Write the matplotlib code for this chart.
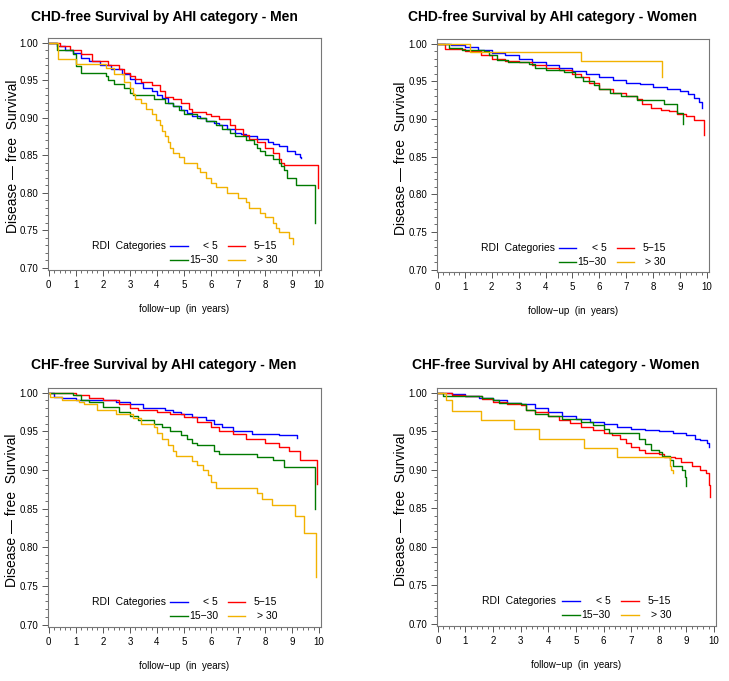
import matplotlib
matplotlib.use("Agg")
import matplotlib.pyplot as plt
from matplotlib.ticker import MultipleLocator

plt.rcParams['font.family'] = ['Liberation Sans', 'DejaVu Sans']

# category labels and colours
categories = ['< 5', '5\u221215', '15\u221230', '> 30']
colors = ['#0000ff', '#ff0000', '#007a00', '#f2b200']

# --- CHD-free, Men (time in years, survival) ---
chd_men_lt5_t = [0, 0.3, 0.6, 0.9, 1.2, 1.5, 1.9, 2.3, 2.7, 3.0, 3.2, 3.5, 3.8, 4.0, 4.2, 4.4, 4.6, 4.9, 5.1, 5.3, 5.6, 5.8, 6.1, 6.3, 6.6, 6.9, 7.1, 7.3, 7.7, 8.1, 8.3, 8.5, 8.8, 9.1, 9.3, 9.33]
chd_men_lt5_s = [1.0, 0.996, 0.99, 0.986, 0.98, 0.975, 0.97, 0.965, 0.958, 0.951, 0.946, 0.94, 0.936, 0.93, 0.926, 0.92, 0.915, 0.91, 0.906, 0.902, 0.899, 0.896, 0.893, 0.89, 0.885, 0.88, 0.878, 0.875, 0.872, 0.868, 0.865, 0.862, 0.855, 0.851, 0.848, 0.846]
chd_men_5_15_t = [0, 0.4, 0.8, 1.2, 1.6, 2.2, 2.6, 2.8, 3.0, 3.2, 3.4, 3.8, 4.1, 4.3, 4.6, 4.9, 5.2, 5.3, 5.8, 6.0, 6.3, 6.7, 6.9, 7.2, 7.4, 7.7, 8.0, 8.3, 8.5, 8.6, 8.7, 9.97]
chd_men_5_15_s = [1.0, 0.996, 0.99, 0.985, 0.975, 0.97, 0.965, 0.96, 0.955, 0.951, 0.948, 0.943, 0.935, 0.928, 0.925, 0.92, 0.912, 0.908, 0.905, 0.902, 0.898, 0.89, 0.885, 0.877, 0.872, 0.867, 0.86, 0.853, 0.845, 0.84, 0.837, 0.806]
chd_men_15_30_t = [0, 0.3, 0.9, 1.0, 1.2, 2.1, 2.2, 2.4, 2.8, 3.0, 3.1, 3.9, 4.3, 4.6, 4.8, 5.0, 5.5, 5.8, 6.2, 6.4, 6.7, 6.9, 7.3, 7.6, 7.7, 7.8, 8.0, 8.3, 8.5, 8.6, 8.7, 8.8, 9.15, 9.85]
chd_men_15_30_s = [1.0, 0.99, 0.985, 0.969, 0.959, 0.955, 0.95, 0.945, 0.94, 0.933, 0.93, 0.925, 0.92, 0.915, 0.91, 0.905, 0.9, 0.895, 0.89, 0.885, 0.88, 0.875, 0.87, 0.865, 0.86, 0.855, 0.85, 0.845, 0.84, 0.835, 0.83, 0.82, 0.81, 0.759]
chd_men_gt30_t = [0, 0.35, 1.0, 2.1, 2.4, 2.8, 3.0, 3.1, 3.2, 3.4, 3.6, 3.8, 3.95, 4.1, 4.2, 4.3, 4.4, 4.5, 4.6, 4.8, 5.0, 5.5, 5.6, 5.8, 6.0, 6.2, 6.6, 7.0, 7.3, 7.4, 7.8, 8.0, 8.3, 8.4, 8.5, 8.9, 9.02]
chd_men_gt30_s = [1.0, 0.978, 0.972, 0.966, 0.958, 0.948, 0.94, 0.932, 0.925, 0.92, 0.912, 0.905, 0.897, 0.89, 0.882, 0.875, 0.867, 0.86, 0.853, 0.847, 0.84, 0.833, 0.827, 0.82, 0.813, 0.807, 0.8, 0.793, 0.787, 0.78, 0.773, 0.767, 0.76, 0.753, 0.747, 0.74, 0.732]

# --- CHD-free, Women ---
chd_wom_lt5_t = [0, 0.5, 1.0, 1.5, 2.0, 2.5, 3.0, 3.5, 4.0, 4.5, 5.0, 5.5, 6.0, 6.5, 7.0, 7.5, 8.0, 8.5, 9.0, 9.3, 9.5, 9.7, 9.8, 9.82]
chd_wom_lt5_s = [1.0, 0.998, 0.995, 0.992, 0.988, 0.985, 0.98, 0.976, 0.972, 0.968, 0.964, 0.96, 0.956, 0.951, 0.948, 0.946, 0.943, 0.94, 0.937, 0.933, 0.928, 0.922, 0.918, 0.915]
chd_wom_5_15_t = [0, 0.25, 1.0, 1.6, 2.0, 2.5, 3.0, 3.5, 4.0, 4.5, 5.0, 5.3, 5.6, 6.0, 6.5, 7.0, 7.4, 7.6, 7.9, 8.3, 8.6, 8.9, 9.2, 9.5, 9.88]
chd_wom_5_15_s = [1.0, 0.993, 0.99, 0.985, 0.98, 0.977, 0.975, 0.972, 0.968, 0.965, 0.96, 0.955, 0.948, 0.94, 0.935, 0.93, 0.926, 0.92, 0.915, 0.912, 0.91, 0.906, 0.904, 0.899, 0.879]
chd_wom_15_30_t = [0, 0.4, 0.9, 1.7, 1.9, 2.2, 2.6, 3.4, 3.6, 4.0, 4.7, 5.1, 5.4, 5.8, 6.0, 6.4, 6.8, 7.4, 8.4, 8.9, 9.12]
chd_wom_15_30_s = [1.0, 0.994, 0.991, 0.99, 0.985, 0.978, 0.975, 0.973, 0.968, 0.965, 0.962, 0.955, 0.95, 0.945, 0.94, 0.935, 0.93, 0.925, 0.92, 0.908, 0.893]
chd_wom_gt30_t = [0, 1.21, 5.31, 8.31]
chd_wom_gt30_s = [1.0, 0.989, 0.977, 0.956]

# --- CHF-free, Men ---
chf_men_lt5_t = [0, 0.2, 0.5, 1.0, 1.5, 2.5, 3.0, 3.5, 4.3, 4.6, 4.9, 5.3, 5.8, 6.1, 6.4, 6.8, 7.5, 8.5, 9.17]
chf_men_lt5_s = [1.0, 0.995, 0.993, 0.99, 0.99, 0.988, 0.985, 0.98, 0.978, 0.975, 0.972, 0.968, 0.965, 0.96, 0.955, 0.95, 0.947, 0.945, 0.942]
chf_men_5_15_t = [0, 0.9, 1.0, 1.5, 2.0, 2.6, 3.0, 3.3, 4.0, 4.5, 5.0, 5.5, 6.0, 6.3, 6.8, 7.3, 8.0, 8.5, 8.9, 9.3, 9.93]
chf_men_5_15_s = [1.0, 1.0, 0.997, 0.993, 0.99, 0.985, 0.98, 0.977, 0.975, 0.972, 0.968, 0.962, 0.955, 0.95, 0.946, 0.94, 0.935, 0.93, 0.925, 0.913, 0.882]
chf_men_15_30_t = [0, 0.9, 1.2, 1.5, 2.0, 2.6, 3.0, 3.3, 3.9, 4.2, 4.5, 4.9, 5.1, 5.3, 5.5, 6.1, 6.3, 7.7, 8.3, 8.7, 9.86]
chf_men_15_30_s = [1.0, 0.997, 0.99, 0.988, 0.982, 0.975, 0.97, 0.965, 0.96, 0.955, 0.95, 0.945, 0.94, 0.935, 0.932, 0.925, 0.921, 0.917, 0.913, 0.904, 0.849]
chf_men_gt30_t = [0, 0.05, 0.5, 1.1, 1.3, 1.8, 2.5, 3.1, 3.4, 3.9, 4.0, 4.2, 4.4, 4.6, 4.7, 5.3, 5.5, 5.7, 5.9, 6.0, 6.2, 7.69, 7.9, 8.25, 9.1, 9.44, 9.9]
chf_men_gt30_s = [1.0, 0.995, 0.99, 0.988, 0.985, 0.978, 0.972, 0.967, 0.96, 0.955, 0.948, 0.94, 0.932, 0.925, 0.918, 0.912, 0.906, 0.9, 0.893, 0.885, 0.877, 0.87, 0.862, 0.855, 0.84, 0.819, 0.761]

# --- CHF-free, Women ---
chf_wom_lt5_t = [0, 0.5, 1.0, 1.5, 2.0, 2.5, 3.0, 3.5, 4.0, 4.5, 5.0, 5.5, 6.0, 6.5, 7.0, 7.5, 8.0, 8.5, 9.0, 9.3, 9.5, 9.75, 9.8]
chf_wom_lt5_s = [1.0, 0.998, 0.996, 0.993, 0.99, 0.987, 0.985, 0.98, 0.975, 0.97, 0.966, 0.962, 0.959, 0.956, 0.953, 0.952, 0.95, 0.948, 0.945, 0.94, 0.938, 0.935, 0.93]
chf_wom_5_15_t = [0, 0.5, 1.0, 1.6, 2.0, 2.5, 3.0, 3.2, 3.5, 4.0, 4.4, 4.8, 5.2, 5.6, 6.0, 6.3, 6.6, 6.8, 7.0, 7.3, 7.5, 8.0, 8.2, 8.6, 8.8, 9.2, 9.5, 9.7, 9.8, 9.87]
chf_wom_5_15_s = [1.0, 0.997, 0.995, 0.992, 0.988, 0.985, 0.984, 0.978, 0.975, 0.97, 0.965, 0.96, 0.955, 0.952, 0.948, 0.945, 0.94, 0.935, 0.93, 0.925, 0.922, 0.92, 0.917, 0.915, 0.91, 0.905, 0.9, 0.895, 0.88, 0.865]
chf_wom_15_30_t = [0, 0.2, 1.0, 1.6, 2.0, 2.2, 3.0, 3.2, 3.5, 4.0, 4.5, 5.2, 5.6, 6.0, 6.2, 7.0, 7.3, 7.5, 7.7, 8.0, 8.1, 8.4, 8.5, 8.85, 8.95, 8.97]
chf_wom_15_30_s = [1.0, 0.996, 0.995, 0.993, 0.99, 0.986, 0.985, 0.978, 0.972, 0.97, 0.966, 0.962, 0.958, 0.953, 0.948, 0.947, 0.94, 0.933, 0.925, 0.923, 0.918, 0.912, 0.905, 0.9, 0.89, 0.879]
chf_wom_gt30_t = [0, 0.3, 0.5, 1.55, 2.75, 3.65, 5.3, 6.5, 8.4, 8.45, 8.5]
chf_wom_gt30_s = [1.0, 0.99, 0.976, 0.965, 0.953, 0.94, 0.928, 0.916, 0.905, 0.9, 0.895]

titles = ['CHD-free Survival by AHI category - Men',
          'CHD-free Survival by AHI category - Women',
          'CHF-free Survival by AHI category - Men',
          'CHF-free Survival by AHI category - Women']

panels = [
    [(chd_men_lt5_t, chd_men_lt5_s), (chd_men_5_15_t, chd_men_5_15_s),
     (chd_men_15_30_t, chd_men_15_30_s), (chd_men_gt30_t, chd_men_gt30_s)],
    [(chd_wom_lt5_t, chd_wom_lt5_s), (chd_wom_5_15_t, chd_wom_5_15_s),
     (chd_wom_15_30_t, chd_wom_15_30_s), (chd_wom_gt30_t, chd_wom_gt30_s)],
    [(chf_men_lt5_t, chf_men_lt5_s), (chf_men_5_15_t, chf_men_5_15_s),
     (chf_men_15_30_t, chf_men_15_30_s), (chf_men_gt30_t, chf_men_gt30_s)],
    [(chf_wom_lt5_t, chf_wom_lt5_s), (chf_wom_5_15_t, chf_wom_5_15_s),
     (chf_wom_15_30_t, chf_wom_15_30_s), (chf_wom_gt30_t, chf_wom_gt30_s)],
]

W, H = 729, 681
# axes boxes in pixels: left, top, right, bottom
boxes = [(48, 38, 321, 270), (437, 39, 709, 272),
         (48, 388, 321, 627), (437, 388, 716, 626)]
title_pos = [(164, 17), (553, 17), (164, 365), (556, 365)]
ylabel_x = [20, 408, 19, 408]

fig = plt.figure(figsize=(W / 100, H / 100), dpi=100)

for i, (box, series) in enumerate(zip(boxes, panels)):
    l, t, r, b = box
    ax = fig.add_axes([l / W, 1 - b / H, (r - l) / W, (b - t) / H])
    for (tt, ss), c in zip(series, colors):
        ax.step(tt, ss, where='post', color=c, lw=1.0)
    ax.set_xlim(-0.03, 10.07)
    ax.set_ylim(0.697, 1.006)
    ax.xaxis.set_major_locator(MultipleLocator(1))
    ax.xaxis.set_minor_locator(MultipleLocator(0.2))
    ax.yaxis.set_major_locator(MultipleLocator(0.05))
    ax.yaxis.set_minor_locator(MultipleLocator(0.01))
    ax.set_yticklabels([f'{v:.2f}' for v in ax.get_yticks()])
    ax.tick_params(which='major', length=4, width=0.7, labelsize=7, color='#555555', pad=3)
    ax.tick_params(which='minor', length=2, width=0.6, color='#555555')
    for sp in ax.spines.values():
        sp.set_color('#777777')
        sp.set_linewidth(0.8)
    ax.set_ylabel('Disease \u2014 free  Survival', fontsize=10)
    ax.yaxis.set_label_coords((ylabel_x[i] - l) / (r - l), 0.49)
    ax.set_xlabel('follow\u2212up  (in  years)', fontsize=7, labelpad=10)

    # legend block drawn like the SAS one
    tr = ax.transAxes
    ax.text(0.16, 0.105, 'RDI  Categories', transform=tr, fontsize=7.5, va='center', ha='left')
    rows = [0.105, 0.045]
    cols = [(0.447, 0.512, 0.623), (0.66, 0.723, 0.84)]
    order = [(0, 0, 0), (1, 0, 1), (2, 1, 0), (3, 1, 1)]
    for k, row, col in order:
        x0, x1, xr = cols[col]
        y = rows[row]
        ax.plot([x0, x1], [y, y], transform=tr, color=colors[k], lw=1.0)
        ax.text(xr, y, categories[k], transform=tr, fontsize=7.5, va='center', ha='right')

    tx, ty = title_pos[i]
    fig.text(tx / W, 1 - ty / H, titles[i], fontsize=10, fontweight='bold', ha='center', va='center')

fig.savefig('out.png', dpi=100)
